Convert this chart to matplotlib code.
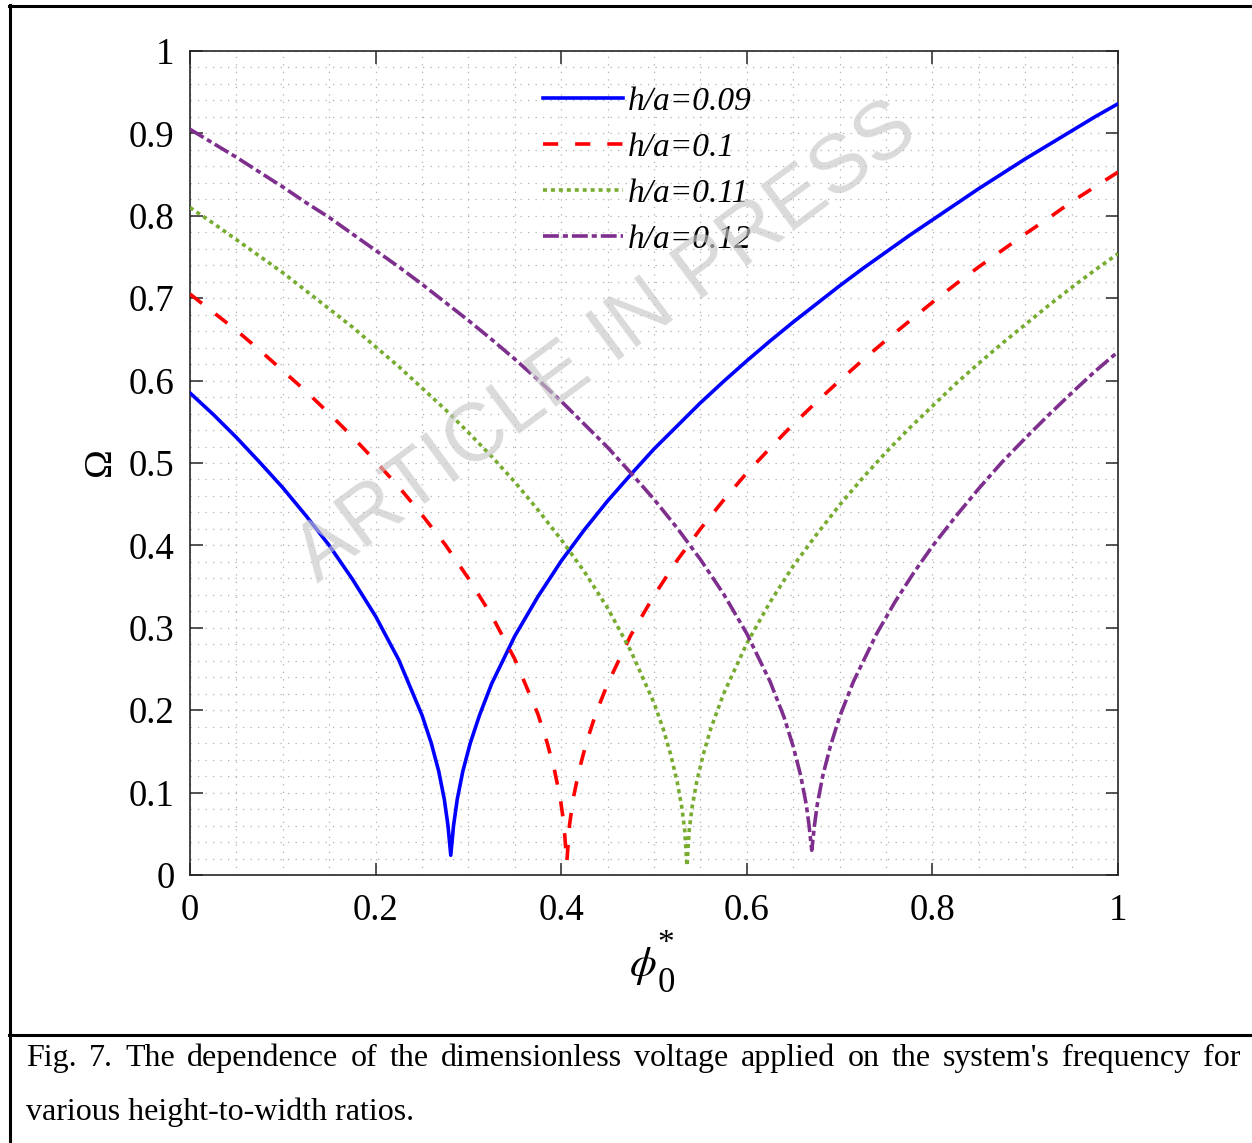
import matplotlib
matplotlib.use("Agg")
import matplotlib.pyplot as plt
from matplotlib.lines import Line2D
from matplotlib.ticker import MultipleLocator

# ---------------- data ----------------
labels = ["h/a=0.09", "h/a=0.1", "h/a=0.11", "h/a=0.12"]

phi_a = [0, 0.025, 0.05, 0.075, 0.1, 0.125, 0.15, 0.175, 0.2, 0.225, 0.25,
         0.26, 0.268, 0.274, 0.278, 0.281, 0.284, 0.288, 0.294, 0.302, 0.312,
         0.325, 0.35, 0.375, 0.4, 0.425, 0.45, 0.475, 0.5, 0.525, 0.55, 0.575,
         0.6, 0.625, 0.65, 0.675, 0.7, 0.725, 0.75, 0.775, 0.8, 0.825, 0.85,
         0.875, 0.9, 0.925, 0.95, 0.975, 1.0]
om_a = [0.585, 0.559, 0.531, 0.501, 0.470, 0.436, 0.400, 0.359, 0.314, 0.261,
        0.194, 0.160, 0.126, 0.092, 0.060, 0.024, 0.060, 0.092, 0.126, 0.160,
        0.194, 0.232, 0.290, 0.338, 0.381, 0.419, 0.454, 0.486, 0.517, 0.545,
        0.573, 0.599, 0.624, 0.648, 0.671, 0.693, 0.715, 0.736, 0.756, 0.776,
        0.795, 0.814, 0.833, 0.851, 0.869, 0.886, 0.903, 0.920, 0.936]

phi_b = [0, 0.025, 0.05, 0.075, 0.1, 0.125, 0.15, 0.175, 0.2, 0.225, 0.25,
         0.275, 0.3, 0.325, 0.35, 0.375, 0.385, 0.393, 0.399, 0.403, 0.406,
         0.409, 0.413, 0.419, 0.427, 0.437, 0.45, 0.475, 0.5, 0.525, 0.55,
         0.575, 0.6, 0.625, 0.65, 0.675, 0.7, 0.725, 0.75, 0.775, 0.8, 0.825,
         0.85, 0.875, 0.9, 0.925, 0.95, 0.975, 1.0]
om_b = [0.705, 0.683, 0.661, 0.637, 0.612, 0.587, 0.560, 0.532, 0.502, 0.471,
        0.437, 0.401, 0.360, 0.315, 0.262, 0.195, 0.160, 0.126, 0.093, 0.061,
        0.015, 0.061, 0.093, 0.126, 0.160, 0.195, 0.232, 0.291, 0.339, 0.382,
        0.420, 0.455, 0.488, 0.518, 0.547, 0.574, 0.600, 0.625, 0.649, 0.672,
        0.695, 0.717, 0.738, 0.758, 0.778, 0.797, 0.817, 0.835, 0.853]

phi_c = [0, 0.025, 0.05, 0.075, 0.1, 0.125, 0.15, 0.175, 0.2, 0.225, 0.25,
         0.275, 0.3, 0.325, 0.35, 0.375, 0.4, 0.425, 0.45, 0.475, 0.5, 0.51,
         0.518, 0.525, 0.53, 0.533, 0.5355, 0.538, 0.541, 0.546, 0.553, 0.561,
         0.575, 0.6, 0.625, 0.65, 0.675, 0.7, 0.725, 0.75, 0.775, 0.8, 0.825,
         0.85, 0.875, 0.9, 0.925, 0.95, 0.975, 1.0]
om_c = [0.810, 0.791, 0.771, 0.751, 0.731, 0.709, 0.687, 0.665, 0.641, 0.617,
        0.591, 0.565, 0.537, 0.508, 0.477, 0.443, 0.407, 0.368, 0.324, 0.272,
        0.209, 0.177, 0.146, 0.113, 0.082, 0.055, 0.011, 0.055, 0.082, 0.113,
        0.146, 0.177, 0.220, 0.281, 0.331, 0.375, 0.413, 0.449, 0.482, 0.513,
        0.542, 0.569, 0.596, 0.621, 0.645, 0.668, 0.691, 0.713, 0.734, 0.754]

phi_d = [0, 0.025, 0.05, 0.075, 0.1, 0.125, 0.15, 0.175, 0.2, 0.225, 0.25,
         0.275, 0.3, 0.325, 0.35, 0.375, 0.4, 0.425, 0.45, 0.475, 0.5, 0.525,
         0.55, 0.575, 0.6, 0.625, 0.64, 0.65, 0.658, 0.664, 0.667, 0.670,
         0.673, 0.676, 0.682, 0.69, 0.70, 0.715, 0.74, 0.76, 0.78, 0.8, 0.825,
         0.85, 0.875, 0.9, 0.925, 0.95, 0.975, 1.0]
om_d = [0.905, 0.888, 0.871, 0.853, 0.835, 0.816, 0.798, 0.778, 0.758, 0.738,
        0.717, 0.695, 0.673, 0.650, 0.626, 0.601, 0.575, 0.547, 0.519, 0.488,
        0.456, 0.421, 0.383, 0.341, 0.293, 0.235, 0.192, 0.156, 0.121, 0.086,
        0.061, 0.030, 0.061, 0.086, 0.121, 0.156, 0.192, 0.235, 0.293, 0.332,
        0.367, 0.399, 0.435, 0.469, 0.501, 0.530, 0.558, 0.585, 0.611, 0.635]

x_ticks = [0, 0.2, 0.4, 0.6, 0.8, 1]
x_tick_labels = ["0", "0.2", "0.4", "0.6", "0.8", "1"]
y_ticks = [0, 0.1, 0.2, 0.3, 0.4, 0.5, 0.6, 0.7, 0.8, 0.9, 1]
y_tick_labels = ["0", "0.1", "0.2", "0.3", "0.4", "0.5", "0.6", "0.7", "0.8", "0.9", "1"]

caption_line1 = "Fig. 7. The dependence of the dimensionless voltage applied on the system's frequency for"
caption_line2 = "various height-to-width ratios."

# ---------------- figure ----------------
W, H = 1252, 1143
DPI = 100
plt.rcParams['font.family'] = ['Liberation Serif', 'DejaVu Serif']
plt.rcParams['mathtext.fontset'] = 'stix'

fig = plt.figure(figsize=(W / DPI, H / DPI), dpi=DPI)
fig.patch.set_facecolor('white')

def px_rect(l, t, r, b):
    return [l / W, 1 - b / H, (r - l) / W, (b - t) / H]

ax = fig.add_axes(px_rect(190, 51, 1118, 875))

lw = 2.6
ax.plot(phi_a, om_a, color='#0000FF', lw=lw, linestyle='-', label=labels[0], zorder=5)
ax.plot(phi_b, om_b, color='#FF0000', lw=lw, linestyle=(0, (4.2, 4.7)), label=labels[1], zorder=5)
ax.plot(phi_c, om_c, color='#77AC30', lw=lw, linestyle=(0, (1.1, 1.1)), label=labels[2], zorder=5)
ax.plot(phi_d, om_d, color='#7E2F8E', lw=lw, linestyle=(0, (4.4, 1.1, 1.4, 1.1)), label=labels[3], zorder=5)

ax.set_xlim(0, 1)
ax.set_ylim(0, 1)
ax.set_xticks(x_ticks)
ax.set_xticklabels(x_tick_labels)
ax.set_yticks(y_ticks)
ax.set_yticklabels(y_tick_labels)
ax.xaxis.set_minor_locator(MultipleLocator(0.05))
ax.yaxis.set_minor_locator(MultipleLocator(0.02))
ax.tick_params(which='major', direction='in', length=9, width=1.1, color='#262626',
               top=True, right=True, labelsize=26.5)
ax.tick_params(axis='y', which='major', pad=11)
ax.tick_params(axis='x', which='major', pad=13)
ax.tick_params(which='minor', length=0, top=True, right=True)
ax.grid(which='both', color='#B0B0B0', linestyle=(0, (1, 5)), linewidth=0.9)
ax.set_axisbelow(True)
for s in ax.spines.values():
    s.set_color('#262626')
    s.set_linewidth(1.2)

leg = ax.legend(loc='upper left', bbox_to_anchor=((536 - 190) / 928, 1 - (80 - 51) / 824),
                frameon=False, prop={'family': 'Liberation Serif', 'style': 'italic', 'size': 24},
                handlelength=2.4, handletextpad=0.15, labelspacing=0.46, borderaxespad=0,
                borderpad=0.2)

# watermark
fig.text(607 / W, 1 - 343 / H, "ARTICLE IN PRESS", family='Liberation Sans',
         fontsize=59, color=(0.78, 0.78, 0.78), alpha=0.65, rotation=36.5,
         ha='center', va='center', zorder=20)

# axis labels
fig.text(100 / W, 1 - 462 / H, "Ω", fontsize=28, rotation=90, ha='center', va='center')
fig.text(643 / W, 1 - 966 / H, r"$\phi$", fontsize=31, ha='center', va='center')
fig.text(666 / W, 1 - 944 / H, "*", fontsize=24, ha='center', va='center')
fig.text(666 / W, 1 - 984 / H, "0", fontsize=25, ha='center', va='center')

# outer frame lines
frame_kw = dict(color='black', lw=2.2, transform=fig.transFigure, clip_on=False)
fig.add_artist(Line2D([9 / W, 1], [1 - 6 / H, 1 - 6 / H], **frame_kw))
fig.add_artist(Line2D([10 / W, 10 / W], [1 - 5 / H, 0], **frame_kw))
fig.add_artist(Line2D([9 / W, 1], [1 - 1035 / H, 1 - 1035 / H], **frame_kw))

# caption (justified first line)
cap_size = 23
fig.canvas.draw()
renderer = fig.canvas.get_renderer()
words = caption_line1.split(" ")
texts = []
widths = []
for w_ in words:
    t = fig.text(0, 1 - 1066 / H, w_, fontsize=cap_size, va='baseline', ha='left')
    bb = t.get_window_extent(renderer)
    texts.append(t)
    widths.append(bb.width)
x0, x1 = 26, 1240
gap = (x1 - x0 - sum(widths)) / (len(words) - 1)
x = x0
for t, wd in zip(texts, widths):
    t.set_x(x / W)
    x += wd + gap
fig.text(26 / W, 1 - 1120 / H, caption_line2, fontsize=cap_size, va='baseline', ha='left')

fig.savefig("out.png", dpi=DPI)
